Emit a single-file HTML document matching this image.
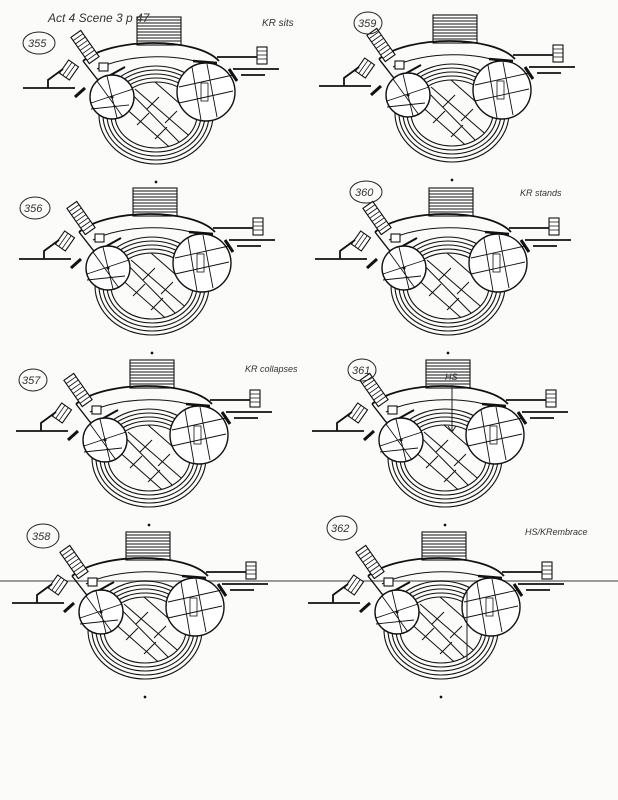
<!DOCTYPE html>
<html><head><meta charset="utf-8"><style>
html,body{margin:0;padding:0;background:#fbfbf9;}
svg{display:block;}
text{font-family:"Liberation Sans",sans-serif;font-style:italic;fill:#333;}
</style></head><body>
<svg width="618" height="800" viewBox="0 0 618 800" xmlns="http://www.w3.org/2000/svg">
<defs>
<clipPath id="disk"><ellipse cx="19" cy="98" rx="41" ry="33"/></clipPath>
<g id="st" fill="none" stroke="#111" stroke-width="1.1">
  <rect x="0" y="0" width="44" height="28" fill="#fff"/>
  <path d="M0 3H44M0 6H44M0 9H44M0 12H44M0 15H44M0 18H44M0 21H44M0 24H44" stroke-width="0.9"/>
  <ellipse cx="19" cy="98" rx="57" ry="49"/><ellipse cx="19" cy="98" rx="53" ry="45"/>
  <ellipse cx="19" cy="98" rx="49" ry="41"/><ellipse cx="19" cy="98" rx="45" ry="37"/>
  <ellipse cx="19" cy="98" rx="41" ry="33"/>
  <g clip-path="url(#disk)" stroke-width="1">
    <path d="M-20 62 L45 128 M-2 72 L57 123 M-22 82 L38 135 M10 58 L75 115"/>
    <path d="M10 92 L22 80 M28 106 L40 94 M0 108 L12 96 M18 122 L30 110 M42 82 L52 72"/>
  </g>
  <path d="M-54 44 C-25 20 60 20 82 44" stroke-width="1.8"/>
  <path d="M-40 52 C-10 36 50 36 72 50" stroke-width="1"/>
  <g transform="translate(-52 30) rotate(-35)"><rect x="-6" y="-16" width="12" height="32" fill="#fff"/>
    <path d="M-6 -12H6M-6 -8H6M-6 -4H6M-6 0H6M-6 4H6M-6 8H6M-6 12H6" stroke-width="0.8"/></g>
  <g transform="translate(-68 53) rotate(35)"><rect x="-6" y="-8" width="12" height="16" fill="#fff"/>
    <path d="M-2 -8V8M2 -8V8" stroke-width="0.8"/></g>
  <path d="M-114 71 H-89 V63 L-74 52 M-89 71 H-62" stroke-width="1.8"/>
  <path d="M-62 80 L-52 71" stroke-width="3"/>
  <path d="M-54 44 L-40 62 L-32 66" stroke-width="1.4"/>
  <rect x="-38" y="46" width="9" height="8" fill="#fff"/>
  <path d="M-30 60 L-12 50" stroke-width="2"/>
  <path d="M80 40 H122 M96 52 H142 M104 58 H128" stroke-width="1.8"/>
  <rect x="120" y="30" width="10" height="17" fill="#fff"/>
  <path d="M120 34H130M120 38H130M120 42H130" stroke-width="0.8"/>
  <path d="M92 52 L100 64" stroke-width="3"/>
  <path d="M56 44 L80 46" stroke-width="2.5"/>
  <circle cx="-25" cy="80" r="22" fill="#fff" stroke-width="1.4"/>
  <path d="M-46 86 L-4 72 M-40 64 L-14 100 M-30 59 L-20 101 M-46 92 L-8 88" stroke-width="0.9"/>
  <circle cx="-25" cy="80" r="1"/>
  <circle cx="69" cy="75" r="29" fill="#fff" stroke-width="1.4"/>
  <path d="M42 70 L96 58 M42 86 L96 74 M55 50 L64 103 M70 47 L80 100" stroke-width="0.9"/>
  <rect x="64" y="66" width="7" height="18" stroke-width="0.8"/>
  <circle cx="19" cy="165" r="0.8" fill="#111"/>
</g>
</defs>
<line x1="0" y1="581" x2="618" y2="581" stroke="#999" stroke-width="2"/>
<use href="#st" x="137" y="17"/><use href="#st" x="433" y="15"/>
<use href="#st" x="133" y="188"/><use href="#st" x="429" y="188"/>
<use href="#st" x="130" y="360"/><use href="#st" x="426" y="360"/>
<use href="#st" x="126" y="532"/><use href="#st" x="422" y="532"/>
<g fill="none" stroke="#222" stroke-width="1">
<ellipse cx="39" cy="43" rx="16" ry="11"/><ellipse cx="368" cy="23" rx="14" ry="11"/>
<ellipse cx="35" cy="208" rx="15" ry="11"/><ellipse cx="366" cy="192" rx="16" ry="11"/>
<ellipse cx="33" cy="380" rx="14" ry="11"/><ellipse cx="362" cy="370" rx="14" ry="11"/>
<ellipse cx="43" cy="536" rx="16" ry="12"/><ellipse cx="342" cy="528" rx="15" ry="12"/>
<path d="M452 385 V432 M448 426 L452 432 L456 426"/>
<path d="M467 591 V660"/>
</g>
<g font-size="11">
<text x="28" y="47">355</text><text x="358" y="27">359</text>
<text x="24" y="212">356</text><text x="355" y="196">360</text>
<text x="22" y="384">357</text><text x="352" y="374">361</text>
<text x="32" y="540">358</text><text x="331" y="532">362</text>
<text x="48" y="22" font-size="12">Act 4 Scene 3  p 47</text>
<text x="262" y="26" font-size="10">KR sits</text>
<text x="520" y="196" font-size="9">KR stands</text>
<text x="245" y="372" font-size="9">KR collapses</text>
<text x="445" y="380" font-size="9">HS</text>
<text x="525" y="535" font-size="9">HS/KRembrace</text>
</g>
</svg>
</body></html>
